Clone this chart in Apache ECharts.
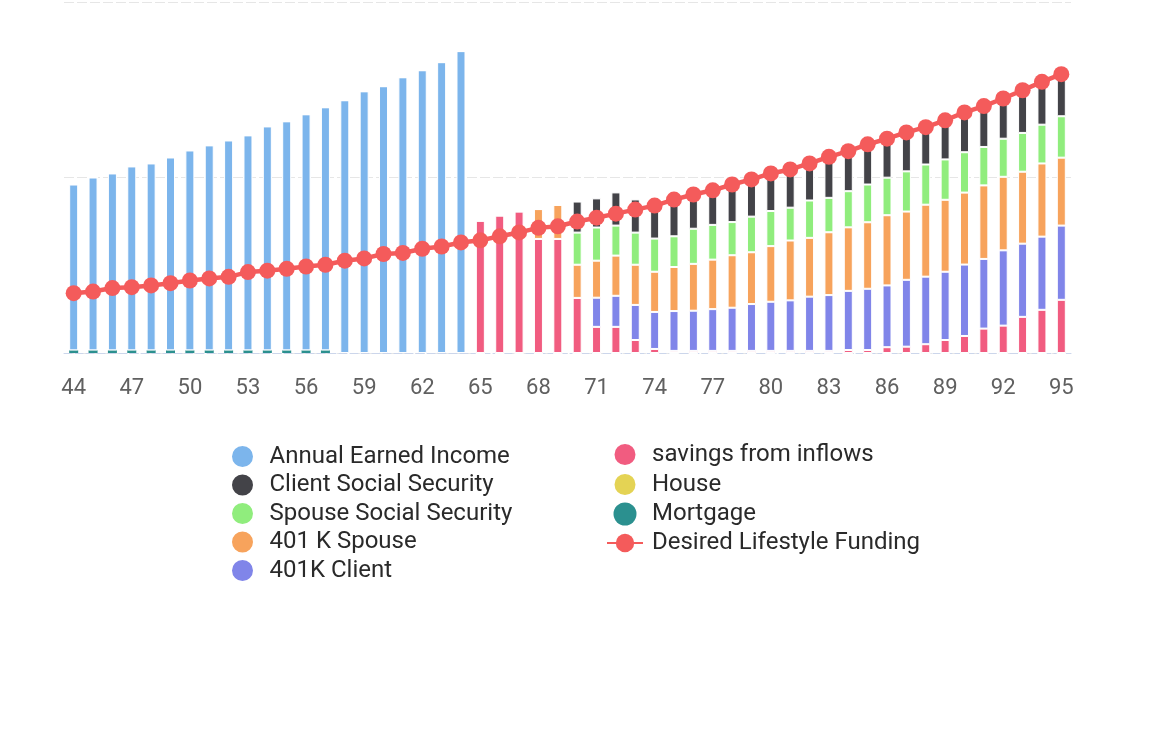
<!DOCTYPE html>
<html>
<head>
<meta charset="utf-8">
<script src="https://cdn.jsdelivr.net/npm/echarts@6/dist/echarts.min.js"></script>
<style>
html,body{margin:0;padding:0;background:#fff;}
#chart{width:1167px;height:734px;}
</style>
</head>
<body>
<div id="chart"></div>
<script>
const ages = ['44','45','46','47','48','49','50','51','52','53','54','55','56','57','58','59','60','61','62','63','64','65','66','67','68','69','70','71','72','73','74','75','76','77','78','79','80','81','82','83','84','85','86','87','88','89','90','91','92','93','94','95'];

const mortgage = [1.5,1.5,1.5,1.5,1.5,1.5,1.5,1.5,1.5,1.5,1.5,1.5,1.5,1.5,0,0,0,0,0,0,0,0,0,0,0,0,0,0,0,0,0,0,0,0,0,0,0,0,0,0,0,0,0,0,0,0,0,0,0,0,0,0];
const earnedIncome = [94.5,98.5,100.8,104.8,106.5,109.9,113.9,116.8,119.6,122.5,127.6,130.5,134.5,138.5,144.0,149.1,152.0,157.1,161.1,165.7,172.0,0,0,0,0,0,0,0,0,0,0,0,0,0,0,0,0,0,0,0,0,0,0,0,0,0,0,0,0,0,0,0];
const savingsInflows = [0,0,0,0,0,0,0,0,0,0,0,0,0,0,0,0,0,0,0,0,0,75.4,78.3,80.6,65,65,31.4,14.9,14.9,7.4,2.3,1.2,1.2,1.2,1.2,1.2,1.2,1.2,1.2,1.2,1.7,1.7,3.3,3.6,5.0,7.4,9.7,13.9,15.6,20.6,24.6,30.3];
const client401k = [0,0,0,0,0,0,0,0,0,0,0,0,0,0,0,0,0,0,0,0,0,0,0,0,0,0,0,16.6,17.7,20,21.1,22.7,22.9,23.8,24.6,26.7,28,28.8,30.9,31.8,33.7,34.9,35.2,38.1,38.5,38.9,40.7,39.7,42.9,41.7,41.7,42.3];
const spouse401k = [0,0,0,0,0,0,0,0,0,0,0,0,0,0,0,0,0,0,0,0,0,0,0,0,17,19.4,18.9,21.1,22.9,22.9,22.9,25.1,26.7,28.2,29.9,29.5,31.7,34.1,33.5,35.8,36.2,37.9,40,38.9,41,41,41,41.9,41.9,41,41.7,38.7];
const spouseSS = [0,0,0,0,0,0,0,0,0,0,0,0,0,0,0,0,0,0,0,0,0,0,0,0,0,0,18.3,18.9,17.1,18.3,18.9,17.5,20,19.8,18.9,20.3,20,18.7,21.3,19.6,20.6,21.5,21.4,22.9,22.9,23,23,21.9,21.7,22.1,22.1,23.6];
const clientSS = [0,0,0,0,0,0,0,0,0,0,0,0,0,0,0,0,0,0,0,0,0,0,0,0,0,0,17.7,16.6,18.9,18.9,18.8,20.9,19.5,19.7,21.4,21.2,21.4,21.8,21.1,23.4,22.8,22.9,22.2,22.2,21.3,22.3,22.7,23.3,22.9,24.3,24.4,24];
const house = [0,0,0,0,0,0,0,0,0,0,0,0,0,0,0,0,0,0,0,0,0,0,0,0,0,0,0,0,0,0,0,0,0,0,0,0,0,0,0,0,0,0,0,0,0,0,0,0,0,0,0,0];
const desiredLifestyle = [34.1,35.0,37.0,37.5,38.5,39.8,41.3,42.5,43.4,46.1,46.9,48.0,49.3,50.3,52.6,53.9,56.4,57.0,59.4,60.7,63.0,64.2,66.5,68.7,71.3,72.2,74.9,77.1,79.4,81.7,84.0,87.4,90.3,92.7,96.0,98.9,102.3,104.6,108.0,111.8,115.0,118.9,122.1,125.7,128.7,132.6,137.1,140.7,145.0,149.7,154.5,158.9];

const legendLeft = ['Annual Earned Income','Client Social Security','Spouse Social Security','401 K Spouse','401K Client'];
const legendRight = ['savings from inflows','House','Mortgage','Desired Lifestyle Funding'];

const chart = echarts.init(document.getElementById('chart'), null, {renderer:'canvas'});

function barSeries(name, data, color, border){
  return {
    name: name, type: 'bar', stack: 'total', data: data, barWidth: 9,
    itemStyle: {color: color, borderColor: '#ffffff', borderWidth: border},
    emphasis: {disabled: true}
  };
}

const legendText = {color:'#2a2a2a', fontSize:24, fontFamily:'Roboto', lineHeight:24, padding:[0,0,0,4]};

chart.setOption({
  animation: false,
  grid: {left: 64, right: 96, top: 2, bottom: 381, containLabel: false},
  xAxis: {
    type: 'category', data: ages, boundaryGap: true,
    axisLine: {lineStyle: {color: '#ccd6eb', type: [8,3], width: 1}},
    axisTick: {interval: 2, alignWithLabel: true, length: 22, lineStyle: {color: '#ccd6eb'}},
    axisLabel: {interval: 2, color: '#606060', fontSize: 22, fontFamily: 'Roboto', margin: 24}
  },
  yAxis: {
    type: 'value', min: 0, max: 200, interval: 100,
    axisLabel: {show: false}, axisLine: {show: false}, axisTick: {show: false},
    splitLine: {lineStyle: {color: '#e6e6e6', type: [10,3]}}
  },
  legend: [
    {
      orient: 'vertical', left: 225, top: 439, itemWidth: 36, itemHeight: 23, itemGap: 3.5,
      textStyle: legendText,
      data: legendLeft.map(n => ({name: n, icon: 'circle'}))
    },
    {
      orient: 'vertical', left: 601, top: 437, itemWidth: 36, itemHeight: 23, itemGap: 5,
      textStyle: legendText,
      data: legendRight.map(n => n === 'Desired Lifestyle Funding' ? {name: n} : {name: n, icon: 'circle'})
    }
  ],
  series: [
    barSeries('Mortgage', mortgage, '#2b908f', 0),
    barSeries('Annual Earned Income', earnedIncome, '#7cb5ec', 1),
    barSeries('House', house, '#e4d354', 1),
    barSeries('savings from inflows', savingsInflows, '#f15c80', 1),
    barSeries('401K Client', client401k, '#8085e9', 1),
    barSeries('401 K Spouse', spouse401k, '#f7a35c', 1),
    barSeries('Spouse Social Security', spouseSS, '#90ed7d', 1),
    barSeries('Client Social Security', clientSS, '#434348', 1),
    {
      name: 'Desired Lifestyle Funding', type: 'line', data: desiredLifestyle, z: 5,
      symbol: 'circle', symbolSize: 16, showSymbol: true, showAllSymbol: true,
      lineStyle: {color: '#f45b5b', width: 4.5},
      itemStyle: {color: '#f45b5b'},
      emphasis: {disabled: true}
    }
  ]
});
</script>
</body>
</html>
